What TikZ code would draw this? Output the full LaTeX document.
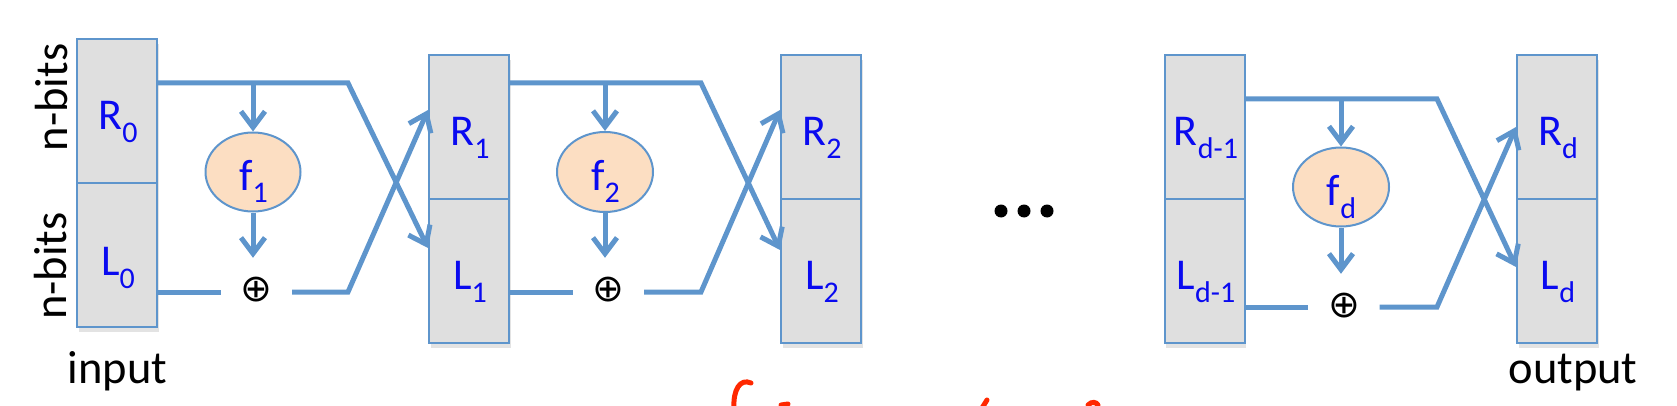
\documentclass[tikz,border=0pt]{standalone}
\usepackage{fontspec}
\setmainfont{Carlito}
\newfontfamily\symfont{DejaVu Sans}
\usetikzlibrary{arrows.meta,shadows,shapes.geometric}
\definecolor{lineblue}{RGB}{94,149,204}
\definecolor{boxgray}{RGB}{223,223,223}
\definecolor{peach}{RGB}{252,222,194}
\definecolor{txtblue}{RGB}{10,10,240}
\definecolor{redink}{RGB}{255,40,0}
\newcommand\sbx[1]{\raisebox{-13pt}{\fontsize{30}{30}\selectfont #1}}
\begin{document}
\begin{tikzpicture}[x=1pt,y=-1pt,
  half/.style={draw=lineblue, line width=2pt, fill=boxgray, minimum width=80pt,
    minimum height=144pt, inner sep=0pt,
    drop shadow={opacity=0.22, shadow xshift=1.5pt, shadow yshift=-5pt}},
  lbl/.style={anchor=base, text=txtblue, inner sep=0pt, font=\fontsize{44}{50}\selectfont},
  blk/.style={anchor=base, text=black, inner sep=0pt, font=\fontsize{46.5}{52}\selectfont},
  fnode/.style={ellipse, draw=lineblue, line width=2pt, fill=peach, inner sep=0pt},
  xor/.style={inner sep=0pt, minimum width=71pt, minimum height=64pt, font=\symfont\fontsize{38}{40}\selectfont},
  conn/.style={draw=lineblue, line width=5pt, line join=miter},
  arr/.style={conn, -{Straight Barb[length=16pt,width=24pt]}},
  dot/.style={fill=black, circle, inner sep=0pt, minimum size=13pt},
  redstroke/.style={draw=redink, line width=5pt, line cap=round}
]
\useasboundingbox (0,0) rectangle (1677,406);

% ---- boxes
\node[half] (R0h) at (117,111) {};
\node[half] (L0h) at (117,255) {};
\node[half] (R1h) at (469,127) {};
\node[half] (L1h) at (469,271) {};
\node[half] (R2h) at (821,127) {};
\node[half] (L2h) at (821,271) {};
\node[half] (Rch) at (1204.5,127) {};
\node[half] (Lch) at (1204.5,271) {};
\node[half] (Rdh) at (1557,127) {};
\node[half] (Ldh) at (1557,271) {};

% ---- box labels
\node[lbl] (R0t) at (118,130) {R\sbx{0}};
\node[lbl] (L0t) at (118,275) {L\sbx{0}};
\node[lbl] (R1t) at (470,146) {R\sbx{1}};
\node[lbl] (L1t) at (470,289) {L\sbx{1}};
\node[lbl] (R2t) at (822,146) {R\sbx{2}};
\node[lbl] (L2t) at (822,289) {L\sbx{2}};
\node[lbl] (Rct) at (1206,146) {R\sbx{d-1}};
\node[lbl] (Lct) at (1206,289) {L\sbx{d-1}};
\node[lbl] (Rdt) at (1558,146) {R\sbx{d}};
\node[lbl] (Ldt) at (1558,289) {L\sbx{d}};

% ---- side texts
\node[blk, rotate=90] (nb1) at (67,97.5) {n-bits};
\node[blk, rotate=90] (nb2) at (66,266) {n-bits};
\node[blk] (inp) at (117.5,383) {input};
\node[blk] (outp) at (1573,383) {output};

% ---- round functions
\node[fnode, minimum width=95pt, minimum height=79pt] (f1) at (253,172) {};
\node[fnode, minimum width=96pt, minimum height=80pt] (f2) at (605,172) {};
\node[fnode, minimum width=96pt, minimum height=79pt] (fd) at (1341,187) {};
\node[lbl] (f1t) at (253.5,190) {f\sbx{1}};
\node[lbl] (f2t) at (605.5,190) {f\sbx{2}};
\node[lbl] (fdt) at (1341.5,205) {f\sbx{d}};

% ---- xor symbols
\node[xor] (x1) at (256.5,290) {⊕};
\node[xor] (x2) at (608.5,290) {⊕};
\node[xor] (xd) at (1344,306) {⊕};

% ---- bend points
\coordinate (t1) at (348,83);
\coordinate (b1) at (348,292);
\coordinate (t2) at (701,83);
\coordinate (b2) at (701,292);
\coordinate (td) at (1437,99);
\coordinate (bd) at (1437,307);

% ---- stage 1
\draw[arr] (R0h.east |- t1) -- (t1) -- (L1h.west |- 0,248);
\draw[arr] (f1.north |- t1) -- (f1.north);
\draw[arr] (f1.south) -- (f1.south |- x1.north);
\draw[conn] (L0h.east |- b1) -- (x1.west |- b1);
\draw[arr] (x1.east |- b1) -- (b1) -- (R1h.west |- 0,110);

% ---- stage 2
\draw[arr] (R1h.east |- t2) -- (t2) -- (L2h.west |- 0,250);
\draw[arr] (f2.north |- t2) -- (f2.north);
\draw[arr] (f2.south) -- (f2.south |- x2.north);
\draw[conn] (L1h.east |- b2) -- (x2.west |- b2);
\draw[arr] (x2.east |- b2) -- (b2) -- (R2h.west |- 0,110);

% ---- stage d
\draw[arr] (Rch.east |- td) -- (td) -- (Ldh.west |- 0,267);
\draw[arr] (fd.north |- td) -- (fd.north);
\draw[arr] (fd.south) -- (fd.south |- xd.north);
\draw[conn] (Lch.east |- bd) -- (xd.west |- bd);
\draw[arr] (xd.east |- bd) -- (bd) -- (Rdh.west |- 0,127);

% ---- dots
\node[dot] (d1) at (1001,211) {};
\node[dot] (d2) at (1024,211) {};
\node[dot] (d3) at (1047,211) {};

% ---- red fragments (cut off at the bottom)
\draw[redstroke] (751,383) .. controls (740,378) and (733,390) .. (734,408);
\draw[redstroke] (781,405) -- (788,404);
\draw[redstroke] (987,400) -- (982,408);
\draw[redstroke] (1088,405) .. controls (1092,401) and (1096,402) .. (1098,405);
\end{tikzpicture}
\end{document}
